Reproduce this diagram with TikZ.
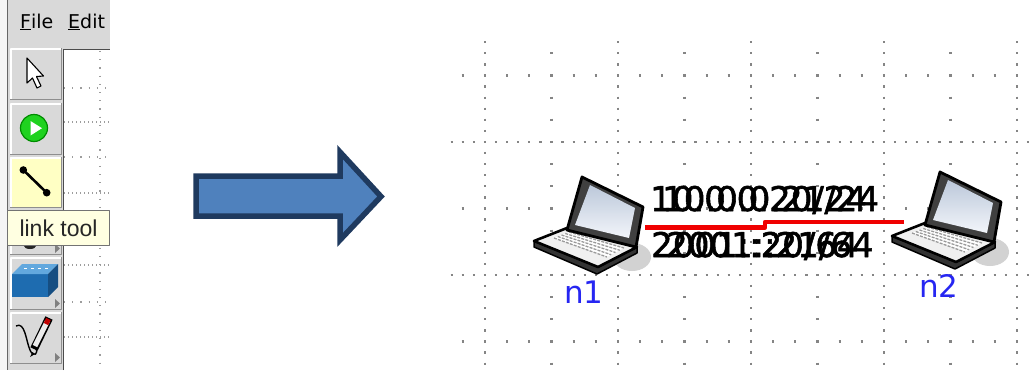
\documentclass[tikz,border=0pt]{standalone}
\usepackage{fontspec}
\setmainfont{DejaVu Sans}
\newfontfamily\uifont{Liberation Sans}
\newfontfamily\addrfont[FakeBold=1.6]{DejaVu Sans}
\usetikzlibrary{calc}

\definecolor{tkgray}{HTML}{D9D9D9}
\definecolor{bevel}{HTML}{8E8E8E}
\definecolor{arrowfill}{HTML}{4F81BD}
\definecolor{arrowedge}{HTML}{1F3A5F}
\definecolor{linkred}{HTML}{F00000}
\definecolor{nodeblue}{HTML}{2626F2}
\definecolor{gridgray}{HTML}{858585}
\definecolor{tipyellow}{HTML}{FFFFE1}
\definecolor{activeyellow}{HTML}{FFFFC4}
\definecolor{screenA}{HTML}{F2F5FA}
\definecolor{screenB}{HTML}{BCC8DA}
\definecolor{shadowgray}{HTML}{D2D2D2}
\definecolor{playgreen}{HTML}{1FD21F}
\definecolor{switchtop}{HTML}{62A8DE}
\definecolor{switchfront}{HTML}{1E6CB0}
\definecolor{switchside}{HTML}{164E82}

\tikzset{
  gridmajor/.style={draw=gridgray, line width=2.2pt, dash pattern=on 2.2pt off 8.883pt},
  gridminor/.style={draw=gridgray, line width=2.2pt, dash pattern=on 2.2pt off 19.967pt},
  smallmajor/.style={draw=gridgray!80, line width=1.2pt, dash pattern=on 1.2pt off 2.8pt},
  smallminor/.style={draw=gridgray!80, line width=1.2pt, dash pattern=on 1.2pt off 7pt},
  hostbox/.style={inner sep=0pt, draw=none},
  hostlabel/.style={inner sep=0pt, text=nodeblue, font=\fontsize{31pt}{31pt}\selectfont},
  iplabel/.style={inner sep=0pt, text=black, font=\addrfont\fontsize{34pt}{34pt}\selectfont},
  link/.style={draw=linkred, line width=4.8pt},
  menulabel/.style={inner sep=0pt, text=black, font=\fontsize{19pt}{19pt}\selectfont},
  tooltip/.style={draw=black!55, line width=1pt, fill=tipyellow, inner sep=0pt,
    text=black!85, font=\uifont\fontsize{23pt}{23pt}\selectfont},
  submenu/.style={fill=black!50},
  laptop/.pic={
    % soft shadow behind the machine
    \fill[shadowgray] (100,82) ellipse [x radius=19, y radius=14];
    % thickness of the base
    \filldraw[fill=black!80, draw=black, line width=1.5pt]
      (2,66) -- (66,92) -- (105,72) -- (105,78) -- (65,99) -- (2,72) -- cycle;
    % top of the base
    \filldraw[fill=black!6, draw=black, line width=2.6pt]
      (2,66) -- (35,53) -- (105,72) -- (66,92) -- cycle;
    % keyboard
    \fill[white] (37,57) -- (92,73) -- (75,82) -- (22,63) -- cycle;
    \foreach \r in {0,0.25,0.5,0.75,1}
      \draw[black!40, line width=1.3pt, dash pattern=on 3pt off 1.2pt]
        ($(37,57)!\r!(22,63)$) -- ($(92,73)!\r!(75,82)$);
    % lid
    \filldraw[fill=black!75, draw=black, line width=2.8pt]
      (35,55) -- (50,2) -- (111,32) -- (104,72) -- cycle;
    % display
    \shade[top color=screenB, bottom color=screenA]
      (58,10) -- (103,33) -- (97,63) -- (43,50) -- cycle;
  }
}

\begin{document}
\begin{tikzpicture}[x=1pt, y=-1pt, line join=round]
\useasboundingbox (0,0) rectangle (1035,370);
\fill[white] (0,0) rectangle (1035,370);

% ---------------- editor window: menu and toolbar ----------------
\begin{scope}
  \clip (0,0) rectangle (110,370);
  \fill[black!4] (0,0) rectangle (8,370);
  \fill[tkgray] (8,0) rectangle (110,370);
  \draw[black!60, line width=1.5pt] (7.5,0) -- (7.5,370);

  \node[menulabel, anchor=base west] (menufile) at (20,28) {\underline{F}ile};
  \node[menulabel, anchor=base west] (menuedit) at (68,28) {\underline{E}dit};

  % drawing canvas with its grid
  \fill[white] (63,49) rectangle (110,370);
  \foreach \yy in {122,193,265,337}
    \draw[smallmajor] (64,\yy) -- (110,\yy);
  \foreach \yy in {88,157,230,302}
    \draw[smallminor] (64,\yy) -- (110,\yy);
  \draw[smallminor] (100,51) -- (100,370);
  \draw[black!70, line width=1.5pt] (63.5,370) -- (63.5,49.5) -- (110,49.5);

  % tool buttons
  \foreach \ya/\yb/\col in {48/100/tkgray, 103/155/tkgray, 157/208/activeyellow,
                            211/255/tkgray, 257/310/tkgray, 312/364/tkgray} {
    \fill[\col] (10,\ya) rectangle (62,\yb);
    \draw[white, line width=1.5pt] (10.75,\yb) -- (10.75,\ya+0.75) -- (62,\ya+0.75);
    \draw[bevel, line width=1.5pt] (10,\yb-0.75) -- (61.25,\yb-0.75) -- (61.25,\ya);
  }
  \foreach \yb in {255,310,364}
    \fill[submenu] (55,\yb-11) -- (60,\yb-6.5) -- (55,\yb-2) -- cycle;

  % selection arrow
  \filldraw[fill=white, draw=black, line width=1.1pt]
    (27,58) -- (27,83) -- (32.5,78) -- (37,88) -- (41,86) -- (36.5,76.5) -- (43.5,76) -- cycle;
  % start button
  \filldraw[fill=playgreen, draw=green!55!black, line width=1.2pt] (34,128) circle [radius=13.5];
  \fill[white] (30.5,121) -- (30.5,135.5) -- (42,128.2) -- cycle;
  % link tool
  \draw[black, line width=2.6pt] (23.3,170) -- (46.7,192.7);
  \fill[black] (23.3,170) circle [radius=3.8] (46.7,192.7) circle [radius=3.8];
  % fragment of the hidden tool icon
  \fill[black!85] (30,246) ellipse [x radius=6, y radius=3];
  % switch
  \fill[switchfront] (12,274) rectangle (48,297);
  \fill[switchtop] (12,274) -- (22,264) -- (58,264) -- (48,274) -- cycle;
  \fill[switchside] (48,274) -- (58,264) -- (58,287) -- (48,297) -- cycle;
  \foreach \px in {24,31,38,45}
    \draw[white, line width=1pt] (\px,268) -- (\px+3,268);
  % pencil
  \draw[black, line width=1.4pt] (16,326) .. controls (25,321) and (26,341) .. (30,350)
    .. controls (33,358) and (40,354) .. (35,347);
  \draw[black, line width=8pt] (34,349) -- (49,318);
  \draw[black!8, line width=5pt] (35,346) -- (47.5,321);
  \draw[red!75!black, line width=5pt] (46,324) -- (48.5,319);
  \fill[black] (32.5,352) -- (30,357) -- (35,354) -- cycle;

  % tooltip
  \node[tooltip, anchor=north west, minimum width=102pt, minimum height=35pt]
    (tip) at (7,210) {link tool};
\end{scope}

% ---------------- arrow ----------------
\filldraw[fill=arrowfill, draw=arrowedge, line width=5.5pt, line join=miter]
  (196,176) -- (340,176) -- (340,152) -- (381,196.5) -- (340,240) -- (340,216)
  -- (196,216) -- cycle;

% ---------------- network canvas ----------------
\begin{scope}
  \clip (450,40) rectangle (1035,370);
  \foreach \xx in {485,618,751,884,1017}
    \draw[gridmajor] (\xx,41.15) -- (\xx,370);
  \foreach \xx in {551.5,684.5,817.5,950.5}
    \draw[gridminor] (\xx,52.2) -- (\xx,370);
  \foreach \yy in {142,275}
    \draw[gridmajor] (450.65,\yy) -- (1035,\yy);
  \foreach \yy in {75.5,208.5,341.5}
    \draw[gridminor] (461.7,\yy) -- (1035,\yy);
\end{scope}

% hosts
\node[hostbox, minimum width=113pt, minimum height=105pt] (n1) at (588.5,227.5) {};
\node[hostbox, minimum width=96pt, minimum height=105pt] (n2) at (952,222) {};
\coordinate (jog) at (765,0);

% link between the hosts
\draw[link] (n1.east) -- (n1.east -| jog) -- (n2.west -| jog) -- (n2.west);

% interface addresses of both ends, printed on top of each other
\node[iplabel, anchor=base west] (v4a) at (650,211) {10.0.0.20/24};
\node[iplabel, anchor=base west] (v4b) at (662,211) {10.0.0.21/24};
\node[iplabel, anchor=base west] (v6a) at (651,257) {2001::20/64};
\node[iplabel, anchor=base west] (v6b) at (666,257) {2001::21/64};

\pic at (532,175) {laptop};
\pic at (890,170) {laptop};

\node[hostlabel, anchor=base west] (n1name) at (564,303) {n1};
\node[hostlabel, anchor=base west] (n2name) at (919,297) {n2};
\end{tikzpicture}
\end{document}
